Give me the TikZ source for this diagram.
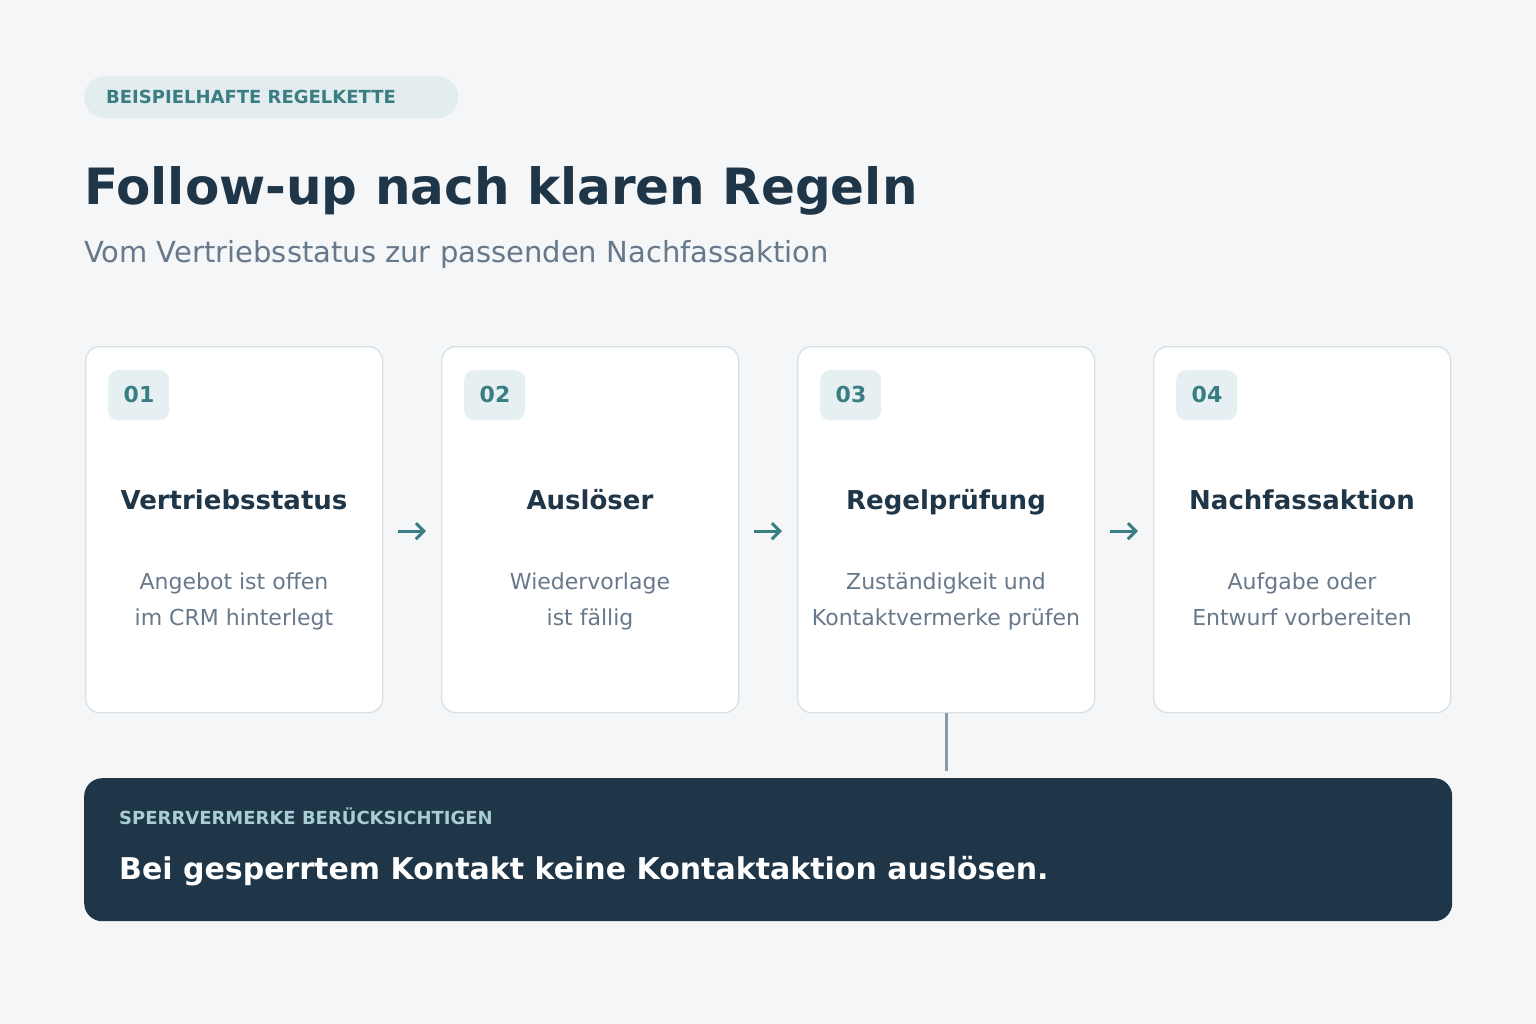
\documentclass[tikz,border=0pt]{standalone}
\usepackage{fontspec}
\setmainfont{DejaVu Sans}
\usetikzlibrary{arrows.meta}
\definecolor{bgc}{HTML}{F4F6F8}
\definecolor{navy}{HTML}{1F3649}
\definecolor{teal}{HTML}{3A7D83}
\definecolor{pillc}{HTML}{E3ECEE}
\definecolor{badgec}{HTML}{E6EFF1}
\definecolor{subc}{HTML}{66788A}
\definecolor{bodyc}{HTML}{67798A}
\definecolor{borderc}{HTML}{D6E0E5}
\definecolor{linec}{HTML}{8A99A6}
\definecolor{labelc}{HTML}{A9CDD4}
\tikzset{
  card/.style={draw=borderc, line width=1.3pt, fill=white, rounded corners=14pt,
    minimum width=297pt, minimum height=366pt, inner sep=0pt, anchor=north west},
  badge/.style={fill=badgec, rounded corners=10pt, minimum width=61pt, minimum height=50pt,
    inner sep=0pt, anchor=north west},
  numtxt/.style={text=teal, font=\bfseries\fontsize{22}{26}\selectfont, anchor=base, inner sep=0pt},
  cardtitle/.style={text=navy, font=\bfseries\fontsize{26}{30}\selectfont, anchor=base, inner sep=0pt},
  cardbody/.style={text=bodyc, font=\fontsize{22}{36}\selectfont, anchor=base, inner sep=0pt, align=center},
  flowarrow/.style={draw=teal, line width=3pt, -{Straight Barb[length=8pt,width=16pt,line width=3pt]}, shorten <=15pt, shorten >=15pt},
}
\begin{document}
\begin{tikzpicture}[x=1pt,y=-1pt]
\fill[bgc] (0,0) rectangle (1536,1024);
\useasboundingbox (0,0) rectangle (1536,1024);
% pill
\node[fill=pillc, rounded corners=21pt, minimum width=374pt, minimum height=42pt, inner sep=0pt, anchor=north west] (pill) at (84,76) {};
\node[text=teal, font=\bfseries\fontsize{18}{20}\selectfont, anchor=base west, inner sep=0pt] (pilltxt) at (106,104) {BEISPIELHAFTE REGELKETTE};
% title
\node[text=navy, font=\bfseries\fontsize{50}{58}\selectfont, anchor=base west, inner sep=0pt] (title) at (84,205) {Follow-up nach klaren Regeln};
\node[text=subc, font=\fontsize{29}{34}\selectfont, anchor=base west, inner sep=0pt] (subtitle) at (84,262) {Vom Vertriebsstatus zur passenden Nachfassaktion};
% cards
\foreach \i/\x/\num/\ttl/\la/\lb in {
  1/85/01/Vertriebsstatus/Angebot ist offen/im CRM hinterlegt,
  2/441/02/Auslöser/Wiedervorlage/ist fällig,
  3/797/03/Regelprüfung/Zuständigkeit und/Kontaktvermerke prüfen,
  4/1153/04/Nachfassaktion/Aufgabe oder/Entwurf vorbereiten}{
  \node[card] (c\i) at (\x,346) {};
  \node[badge] (b\i) at (\x+23,370) {};
  \node[numtxt] (n\i) at (\x+54,402) {\num};
  \node[cardtitle] (t\i) at (\x+149,509) {\ttl};
  \node[cardbody] (la\i) at (\x+149,589) {\la};
  \node[cardbody] (lb\i) at (\x+149,625) {\lb};
}
\draw[flowarrow] ([yshift=-1.5pt]c1.east) -- ([yshift=-1.5pt]c2.west);
\draw[flowarrow] ([yshift=-1.5pt]c2.east) -- ([yshift=-1.5pt]c3.west);
\draw[flowarrow] ([yshift=-1.5pt]c3.east) -- ([yshift=-1.5pt]c4.west);
% bottom box
\node[fill=navy, rounded corners=18pt, minimum width=1368pt, minimum height=143pt, inner sep=0pt, anchor=north west] (bottom) at (84,778) {};
\draw[draw=linec, line width=3pt, shorten >=7pt] (c3.south) -- (c3.south |- bottom.north);
\node[text=labelc, font=\bfseries\fontsize{18}{20}\selectfont, anchor=base west, inner sep=0pt] (blabel) at (119,824) {SPERRVERMERKE BERÜCKSICHTIGEN};
\node[text=white, font=\bfseries\fontsize{30}{36}\selectfont, anchor=base west, inner sep=0pt] (bmain) at (119,879) {Bei gesperrtem Kontakt keine Kontaktaktion auslösen.};
\end{tikzpicture}
\end{document}
